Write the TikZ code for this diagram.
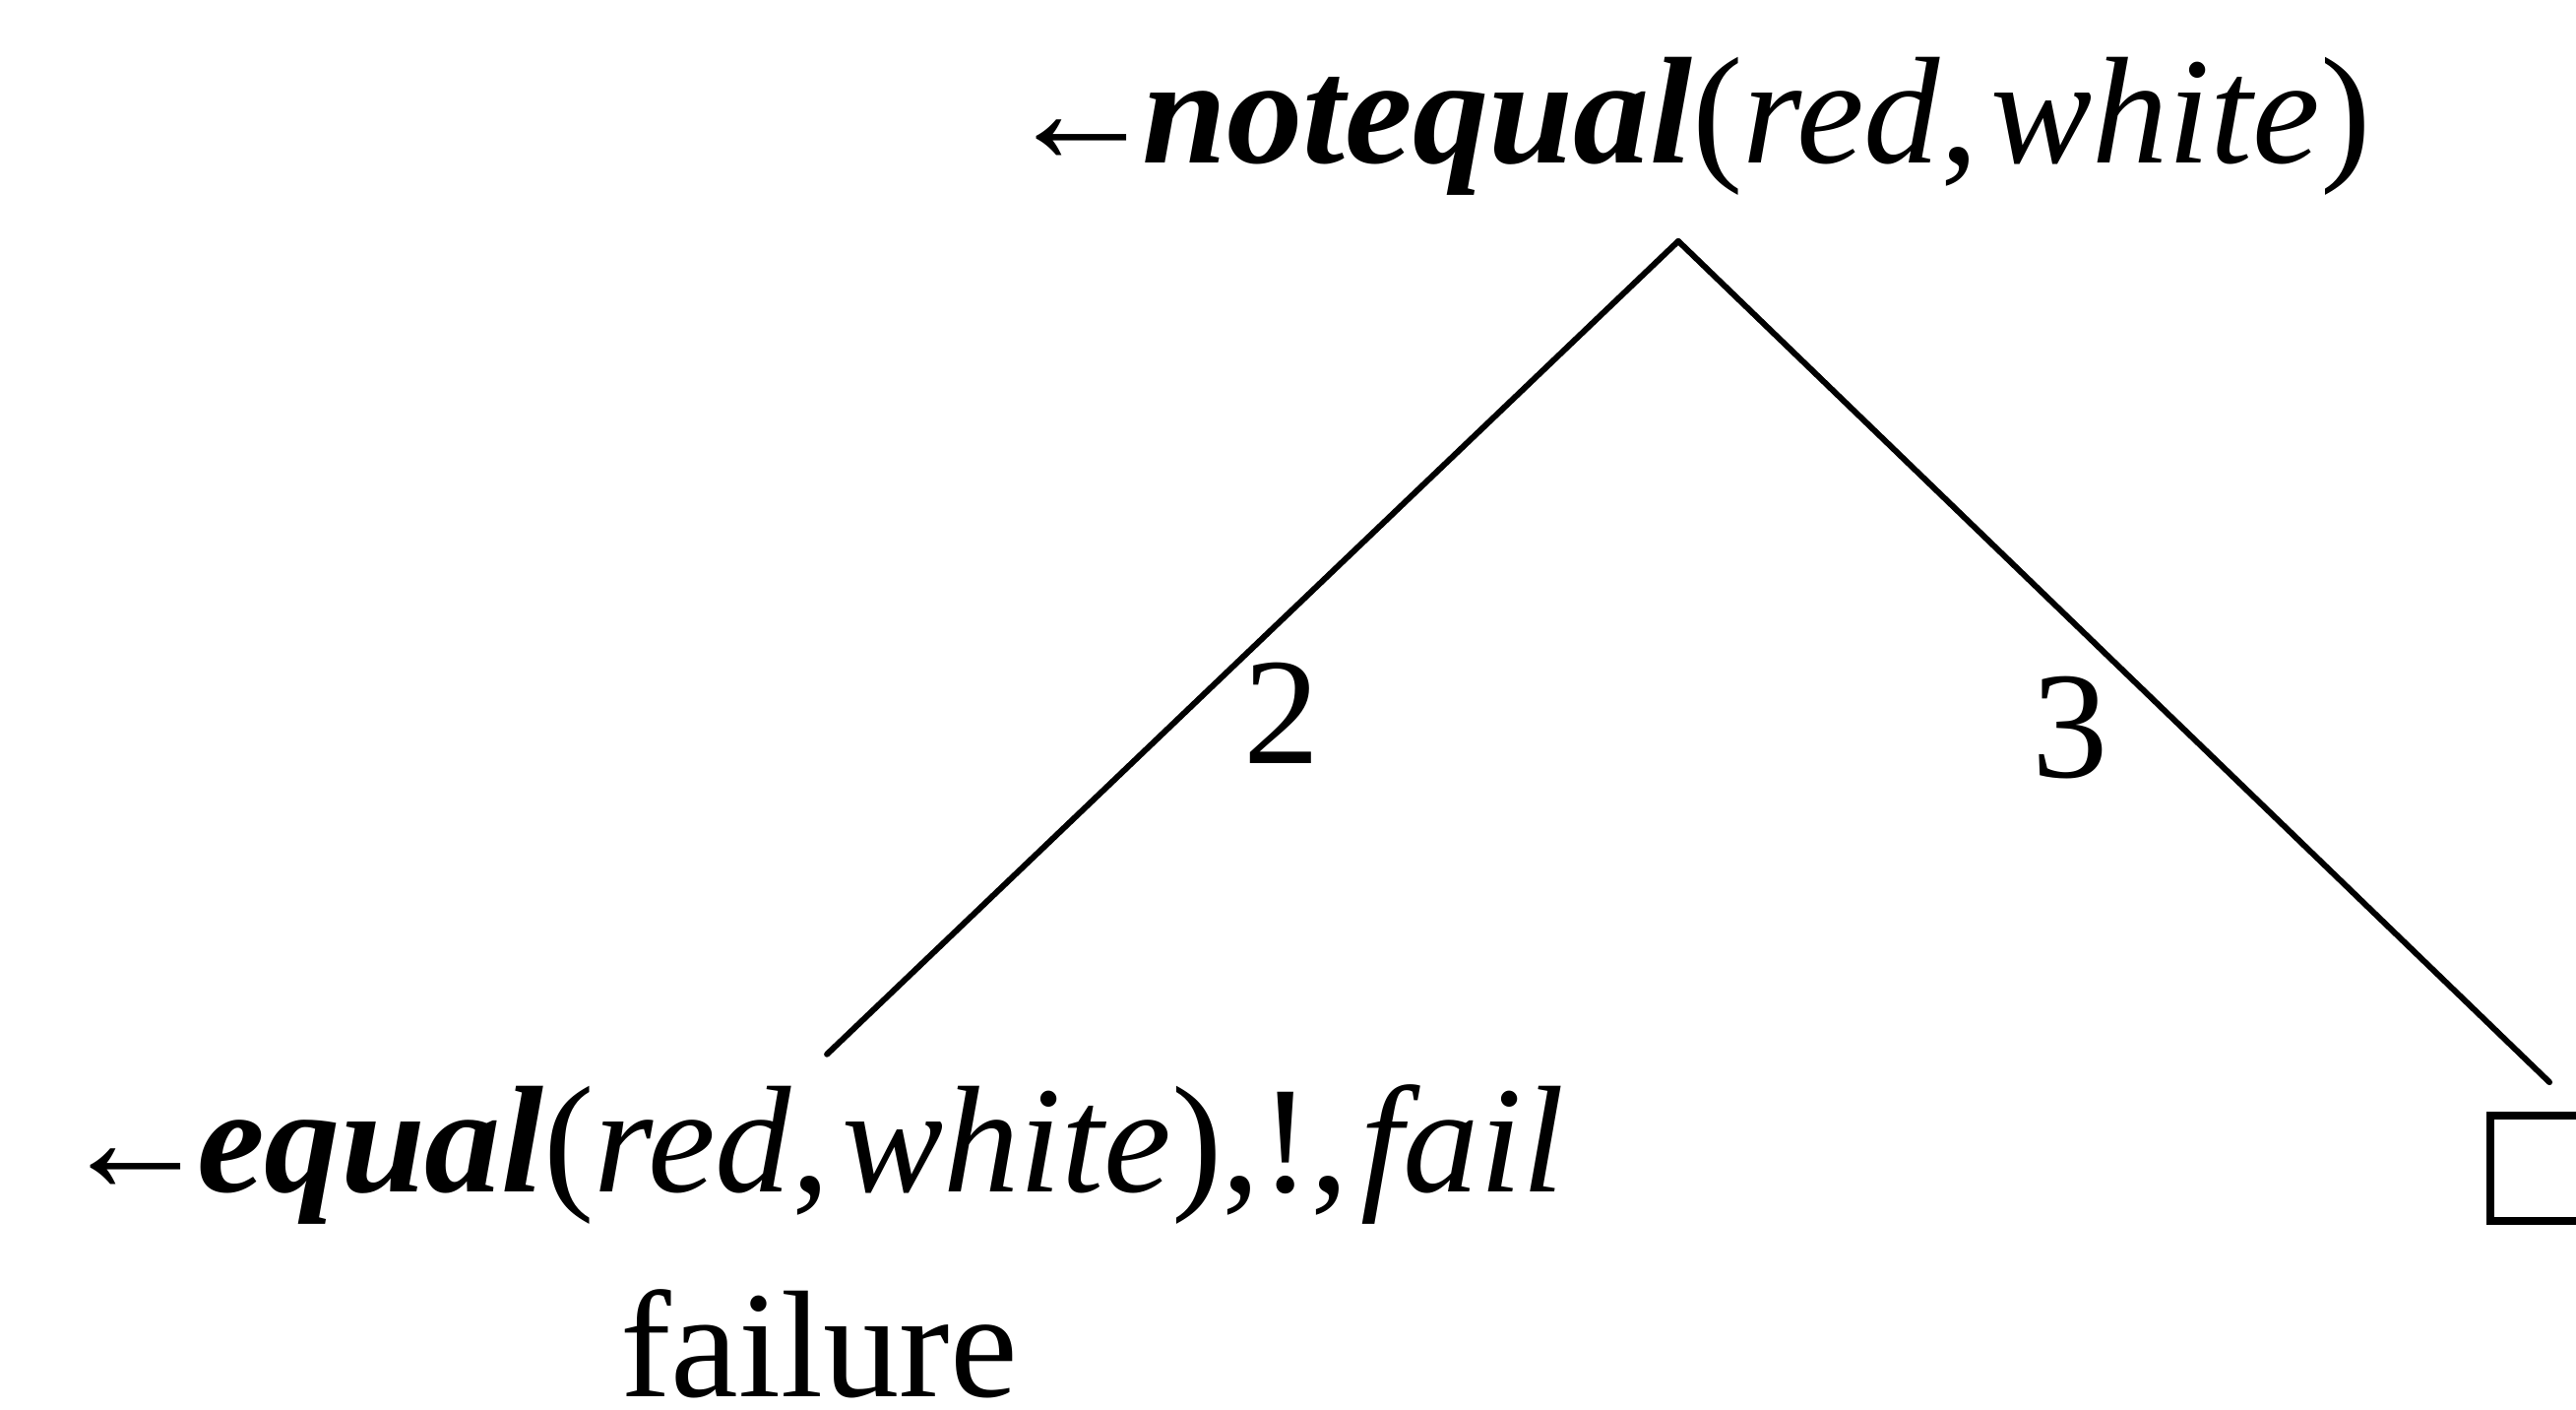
\documentclass[tikz,border=0pt]{standalone}
\usepackage{fontspec}
\setmainfont{Liberation Serif}
\usepackage{tikz}
\usetikzlibrary{positioning, calc}
\tikzstyle{goal} = [
  inner sep=0pt, anchor=base,
  font=\fontsize{44}{52}\selectfont
]
\tikzstyle{branch} = [line width=0.06cm, line cap=round]
\tikzstyle{branchlabel} = [inner sep=0pt, font=\fontsize{44}{52}\selectfont]
\tikzstyle{emptybox} = [
  rectangle, draw, line width=0.08cm,
  minimum size=1.07cm, inner sep=0pt
]

\begin{document}
\begin{tikzpicture}
  \useasboundingbox (0,0) rectangle (26.17,-14.31);

  % Root goal
  \node[goal, outer ysep=0.47cm] (root) at (17.15,-1.65)
    {←\kern-0.1em\textbf{\textit{notequal}}(\textit{red},\kern0.08em\textit{white})};

  % Left branch: failed clause
  \node[goal] (left) at (8.25,-12.10)
    {←\kern-0.1em\textbf{\textit{equal}}(\textit{red},\kern0.08em\textit{white}),!,\kern0.08em\textit{fail}};
  \node[goal] (fail) at (8.32,-14.18) {failure};

  % Right branch: empty clause
  \node[emptybox] (empty) at (25.835,-11.865) {};

  % Branches
  \draw[branch, shorten >=0.43cm] ([xshift=-0.10cm]root.south) --
    node[branchlabel, pos=0.4965, anchor=north west] {2}
    ([xshift=-0.16cm]left.north);
  \draw[branch, shorten >=0.43cm] ([xshift=-0.10cm]root.south) --
    node[branchlabel, pos=0.4966, anchor=north east, xshift=-0.15cm] {3}
    ([xshift=-0.2cm]empty.north east);

\end{tikzpicture}
\end{document}
